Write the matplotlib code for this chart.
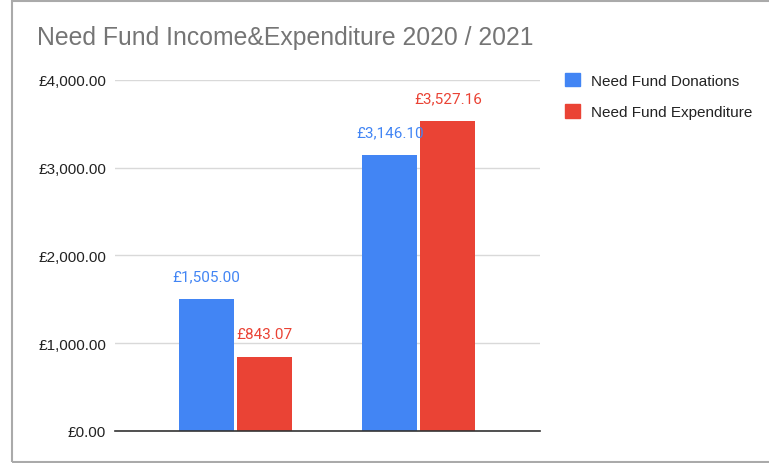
import matplotlib
matplotlib.use("Agg")
import matplotlib.pyplot as plt
from matplotlib.patches import Rectangle
import numpy as np

categories = ["2020", "2021"]
donations = [1505.00, 3146.10]
expenditure = [843.07, 3527.16]
series_names = ["Need Fund Donations", "Need Fund Expenditure"]
yticks = [0, 1000, 2000, 3000, 4000]
ytick_labels = ["£0.00", "£1,000.00", "£2,000.00", "£3,000.00", "£4,000.00"]

BLUE = "#4285F4"
RED = "#EA4335"
plt.rcParams['font.family'] = ['Liberation Sans', 'DejaVu Sans']

fig = plt.figure(figsize=(7.69, 4.64), dpi=100)
W, H = 769, 464
# outer frame
fig.patches.append(Rectangle((12 / W, 1 / H), 1.0, (461) / H, transform=fig.transFigure,
                             fill=False, edgecolor="#aaaaaa", linewidth=1.5))

ax = fig.add_axes([115 / W, 1 - 432 / H, (540 - 115) / W, (432 - 81) / H])
x = np.arange(len(categories))
bw = 0.30
gap = 0.008
b1 = ax.bar(x - bw / 2 - gap, donations, width=bw, color=BLUE, zorder=3)
b2 = ax.bar(x + bw / 2 + gap, expenditure, width=bw, color=RED, zorder=3)

for bars, vals, col in ((b1, donations, BLUE), (b2, expenditure, RED)):
    for r, v in zip(bars, vals):
        ax.annotate(f"£{v:,.2f}", (r.get_x() + r.get_width() / 2, v),
                    xytext=(0, 13.7), textcoords="offset points", ha="center", va="baseline",
                    color=col, fontsize=11, family=['Roboto', 'DejaVu Sans'])

ax.set_xlim(-0.656, 1.661)
ax.set_ylim(0, 4000)
ax.set_yticks(yticks)
ax.set_yticklabels(ytick_labels, fontsize=11, color="#222222")
ax.tick_params(axis="y", length=0, pad=6.5)
ax.set_xticks([])
ax.grid(axis="y", color="#d9d9d9", linewidth=1, zorder=0)
for s in ["top", "right", "left"]:
    ax.spines[s].set_visible(False)
ax.spines["bottom"].set_color("#333333")
ax.spines["bottom"].set_linewidth(1.2)
ax.spines["bottom"].set_zorder(4)

fig.text(37 / W, 1 - 45 / H, "Need Fund Income&Expenditure 2020 / 2021", fontsize=17.8,
         color="#757575", va="baseline", ha="left")

handles = [Rectangle((0, 0), 1, 1, color=BLUE), Rectangle((0, 0), 1, 1, color=RED)]
leg = fig.legend(handles, series_names, loc="upper left", bbox_to_anchor=(551 / W, 1 - 60 / H),
                 frameon=False, fontsize=11, handlelength=1.0, handleheight=1.0,
                 labelspacing=1.05, handletextpad=0.72)
for t in leg.get_texts():
    t.set_color("#222222")

fig.savefig("out.png", dpi=100)
